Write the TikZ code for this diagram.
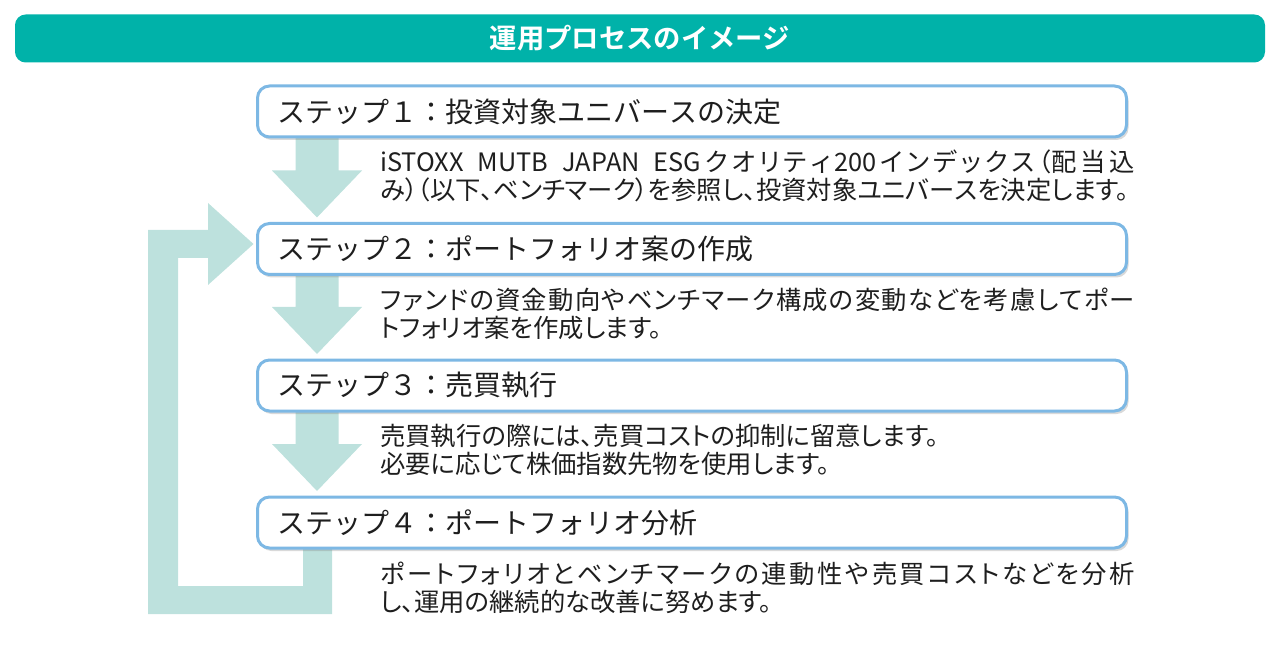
\documentclass[tikz,border=0pt]{standalone}
\usepackage{fontspec}
\setmainfont{Noto Sans CJK JP}[BoldFont={Noto Sans CJK JP Bold}]
\newfontfamily\descfont{Noto Sans CJK JP}[RawFeature={+palt}]
\usetikzlibrary{calc,shadows,backgrounds}
\XeTeXlinebreaklocale "ja"
\XeTeXlinebreakskip=0pt plus 1pt
\definecolor{headteal}{RGB}{0,178,169}
\definecolor{flowteal}{RGB}{189,225,221}
\definecolor{boxblue}{RGB}{125,184,228}
\definecolor{ink}{RGB}{30,30,30}

\begin{document}
\begin{tikzpicture}[
    x=0.75pt, y=-0.75pt,
    header/.style={fill=headteal, rounded corners=8pt, minimum width=937.5pt,
      minimum height=36pt, text=white, font=\fontsize{20.5}{24}\selectfont\bfseries},
    stepbox/.style={draw=boxblue, line width=2.25pt, fill=white, rounded corners=9pt,
      outer sep=0pt, minimum height=38.25pt, text width=621.75pt, inner xsep=15pt,
      align=left, text=ink, font=\fontsize{21}{24}\selectfont,
      drop shadow={shadow xshift=1.5pt, shadow yshift=-2.25pt, opacity=0.3}},
    desc/.style={text width=566pt, inner sep=0pt, align=justify, anchor=west,
      text=ink, font=\descfont\fontsize{19}{21}\selectfont},
    flow/.style={fill=flowteal}
  ]
  \useasboundingbox (0,0) rectangle (1280,666);

  % title bar
  \node[header] (head) at (640,38.5) {運用プロセスのイメージ};

  % steps
  \node[stepbox] (s1) at (692,111.5) {ステップ１：投資対象ユニバースの決定};
  \node[stepbox] (s2) at (692,249) {ステップ２：ポートフォリオ案の作成};
  \node[stepbox] (s3) at (692,385.5) {ステップ３：売買執行};
  \node[stepbox] (s4) at (692,522.5) {ステップ４：ポートフォリオ分析};

  % explanations
  \node[desc] (d1) at ($(s1.south west)+(122.5,39)$)
    {iSTOXX MUTB JAPAN ESGクオリティ200インデックス（配当込\linebreak
     み）（以下、ベンチマーク）を参照し、投資対象ユニバースを決定します。};
  \node[desc] (d2) at ($(s2.south west)+(122.5,39)$)
    {ファンドの資金動向やベンチマーク構成の変動などを考慮してポー\linebreak
     トフォリオ案を作成します。};
  \node[desc] (d3) at ($(s3.south west)+(122.5,39)$)
    {売買執行の際には、売買コストの抑制に留意します。\\
     必要に応じて株価指数先物を使用します。};
  \node[desc] (d4) at ($(s4.south west)+(122.5,40)$)
    {ポートフォリオとベンチマークの連動性や売買コストなどを分析\linebreak
     し、運用の継続的な改善に努めます。};

  % block arrows behind the boxes
  \begin{scope}[on background layer]
    \foreach \a/\b in {s1/s2,s2/s3,s3/s4}
      \fill[flow] ($(\a.south west)+(38,-4)$) -- ($(\a.south west)+(81,-4)$)
        -- ($(\b.north west)+(81,-53)$) -- ($(\b.north west)+(104.5,-53)$)
        -- ($(\b.north west)+(59.5,-6)$) -- ($(\b.north west)+(14.5,-53)$)
        -- ($(\b.north west)+(38,-53)$) -- cycle;
    % feedback from step 4 to step 2
    \fill[flow] ($(s4.south west)+(45.5,-4)$) -- ($(s4.south west)+(74.5,-4)$)
      -- ($(s4.south west)+(74.5,66)$) -- ($(s4.south west)+(-109.5,66)$)
      -- ($(s2.west)+(-109.5,-19)$) -- ($(s2.west)+(-49.5,-19)$)
      -- ($(s2.west)+(-49.5,-46)$) -- ($(s2.west)+(-4,-5)$)
      -- ($(s2.west)+(-49.5,36)$) -- ($(s2.west)+(-49.5,9)$)
      -- ($(s2.west)+(-79.5,9)$) -- ($(s4.south west)+(-79.5,38)$)
      -- ($(s4.south west)+(45.5,38)$) -- cycle;
  \end{scope}
\end{tikzpicture}
\end{document}
